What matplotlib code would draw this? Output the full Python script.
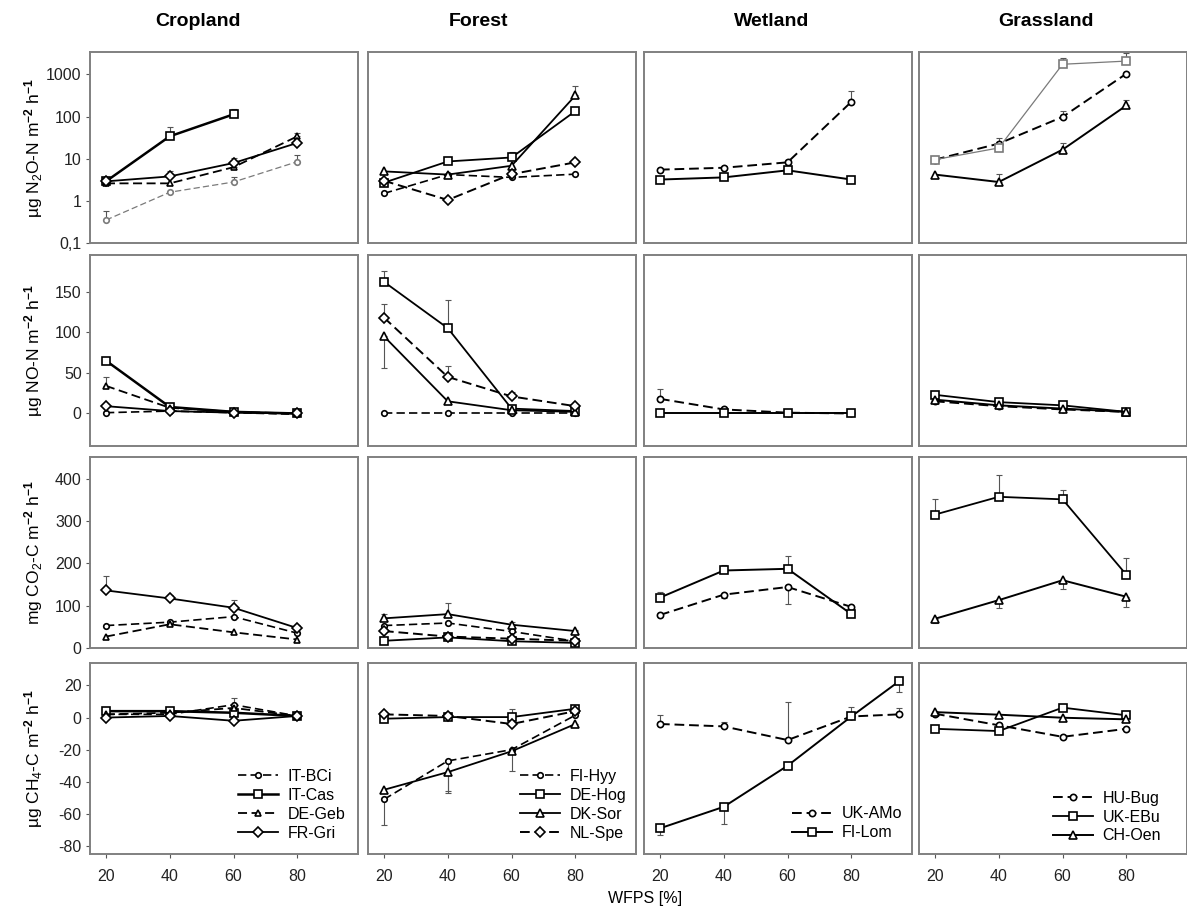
import numpy as np
import matplotlib
matplotlib.use('Agg')
import matplotlib.pyplot as plt

plt.rcParams['font.family'] = ['Liberation Sans', 'DejaVu Sans']
plt.rcParams['mathtext.fontset'] = 'custom'
plt.rcParams['mathtext.rm'] = 'Liberation Sans'
plt.rcParams['mathtext.it'] = 'Liberation Sans:italic'
plt.rcParams['mathtext.bf'] = 'Liberation Sans:bold'

# x values (WFPS %), wetland has one extra point
wfps = [20, 40, 60, 80]
wfps_wet = [20, 40, 60, 80, 95]

land_uses = ["Cropland", "Forest", "Wetland", "Grassland"]
sites_crop = ["IT-BCi", "IT-Cas", "DE-Geb", "FR-Gri"]
sites_forest = ["FI-Hyy", "DE-Hog", "DK-Sor", "NL-Spe"]
sites_wet = ["UK-AMo", "FI-Lom"]
sites_grass = ["HU-Bug", "UK-EBu", "CH-Oen"]

ylabels = [r"µg N$_2$O-N m$^{\mathbf{-2}}$ h$^{\mathbf{-1}}$",
           r"µg NO-N m$^{\mathbf{-2}}$ h$^{\mathbf{-1}}$",
           r"mg CO$_2$-C m$^{\mathbf{-2}}$ h$^{\mathbf{-1}}$",
           r"µg CH$_4$-C m$^{\mathbf{-2}}$ h$^{\mathbf{-1}}$"]

# errors: positive = upper bar, negative = lower bar, 0 = none
# --- N2O ---
n2o_crop = {"IT-BCi": [0.35, 1.6, 2.8, 8.5], "IT-Cas": [2.9, 34, 113, np.nan],
            "DE-Geb": [2.6, 2.6, 6.3, 34], "FR-Gri": [2.9, 3.8, 7.9, 23.7]}
n2o_crop_err = {"IT-BCi": [0.22, 0, 0.8, 3.9], "IT-Cas": [0, 23, 42, 0],
                "DE-Geb": [0, 0, 1.5, 6], "FR-Gri": [0.6, 1.2, 2.6, 3]}
n2o_forest = {"FI-Hyy": [1.5, 4.2, 3.6, 4.3], "DE-Hog": [2.7, 8.6, 10.7, 135],
              "DK-Sor": [5.0, 4.2, 6.8, 316], "NL-Spe": [3.0, 1.05, 4.3, 8.2]}
n2o_forest_err = {"DE-Hog": [0, 1.5, 4, 0], "DK-Sor": [0, 0, 0, 210]}
n2o_wet = {"UK-AMo": [5.5, 6.1, 8.2, 224], "FI-Lom": [3.2, 3.6, 5.3, 3.2]}
n2o_wet_err = {"UK-AMo": [0, 0, 1, 180]}
n2o_grass = {"HU-Bug": [9.5, 22.8, 98, 1040], "UK-EBu": [9.5, 18, 1740, 2070],
             "CH-Oen": [4.2, 2.8, 16.4, 183]}
n2o_grass_err = {"HU-Bug": [0, 8, 36, 0], "UK-EBu": [2, 0, 760, 1100],
                 "CH-Oen": [0, 1.6, 7.6, 62]}

# --- NO ---
no_crop = {"IT-BCi": [1, 3, 1, -1], "IT-Cas": [65, 8, 2, 0],
           "DE-Geb": [34, 7, 2, 0], "FR-Gri": [9, 3, 1, 0]}
no_crop_err = {"IT-Cas": [3, 0, 0, 0], "DE-Geb": [11, 0, 0, 0]}
no_forest = {"FI-Hyy": [0, 0, 0, 0], "DE-Hog": [162, 105, 6, 3],
             "DK-Sor": [95, 15, 4, 2], "NL-Spe": [118, 45, 21, 9]}
no_forest_err = {"DE-Hog": [13, 35, 0, 0], "DK-Sor": [-39, 0, 0, 0],
                 "NL-Spe": [17, 14, 6, 0]}
no_wet = {"UK-AMo": [18, 5, 1, 0], "FI-Lom": [0, 0, 0, 0]}
no_wet_err = {"UK-AMo": [12, 0, 0, 0]}
no_grass = {"HU-Bug": [15, 9, 5, 2], "UK-EBu": [23, 14, 10, 2],
            "CH-Oen": [17, 10, 6, 2]}
no_grass_err = {}

# --- CO2 ---
co2_crop = {"IT-BCi": [53, 61, 74, 35], "DE-Geb": [27, 56, 37, 20],
            "FR-Gri": [136, 117, 95, 47]}
co2_crop_err = {"FR-Gri": [35, 8, 18, 8]}
co2_forest = {"FI-Hyy": [53, 59, 39, 16], "DE-Hog": [17, 25, 16, 12],
              "DK-Sor": [70, 80, 55, 40], "NL-Spe": [40, 27, 22, 17]}
co2_forest_err = {"DK-Sor": [10, 27, 6, 3]}
co2_wet = {"UK-AMo": [78, 126, 144, 97], "FI-Lom": [119, 183, 187, 80]}
co2_wet_err = {"UK-AMo": [0, -9, -39, 0], "FI-Lom": [14, 14, 30, 0]}
co2_grass = {"UK-EBu": [315, 357, 351, 173], "CH-Oen": [69, 113, 160, 121]}
co2_grass_err = {"UK-EBu": [37, 51, 22, 39], "CH-Oen": [-9, -19, -20, -24]}

# --- CH4 ---
ch4_crop = {"IT-BCi": [2, 2, 8, 1], "IT-Cas": [4, 4, 3, 1],
            "DE-Geb": [2, 3, 6, 1], "FR-Gri": [0, 1, -2, 1]}
ch4_crop_err = {"DE-Geb": [0, 0, 6, 0]}
ch4_forest = {"FI-Hyy": [-51, -27, -20, 1.5], "DE-Hog": [-0.7, 0.3, 0.3, 5.5],
              "DK-Sor": [-45, -34, -21, -4], "NL-Spe": [2, 1, -4, 4]}
ch4_forest_err = {"FI-Hyy": [-16, -19, -13, 0], "DE-Hog": [0, 0, 5, 0],
                  "DK-Sor": [0, -13, 0, -2]}
ch4_wet = {"UK-AMo": [-4, -5.5, -14, 0.7, 2], "FI-Lom": [-69, -55.6, -30, 0.7, 22.7]}
ch4_wet_err = {"UK-AMo": [5.6, 3, 24, 6, 4], "FI-Lom": [-4, -10.6, 0, 0, -7]}
ch4_grass = {"HU-Bug": [2.4, -4.8, -12, -7], "UK-EBu": [-7, -8.4, 6.2, 1.4],
             "CH-Oen": [3.4, 1.8, -0.1, -1.1]}
ch4_grass_err = {}

# marker / line style per site
style = {
    "IT-BCi": ('o', '--', 4.0, 1.2), "IT-Cas": ('s', '-', 5.5, 1.8),
    "DE-Geb": ('^', '--', 5.0, 1.3), "FR-Gri": ('D', '-', 5.0, 1.3),
    "FI-Hyy": ('o', '--', 4.0, 1.2), "DE-Hog": ('s', '-', 5.5, 1.3),
    "DK-Sor": ('^', '-', 5.5, 1.3), "NL-Spe": ('D', '--', 5.0, 1.4),
    "UK-AMo": ('o', '--', 4.5, 1.4), "FI-Lom": ('s', '-', 5.5, 1.4),
    "HU-Bug": ('o', '--', 4.5, 1.4), "UK-EBu": ('s', '-', 5.5, 1.3),
    "CH-Oen": ('^', '-', 5.5, 1.4),
}
grey_n2o = ["IT-BCi", "UK-EBu"]

rows = [
    [(n2o_crop, n2o_crop_err), (n2o_forest, n2o_forest_err), (n2o_wet, n2o_wet_err), (n2o_grass, n2o_grass_err)],
    [(no_crop, no_crop_err), (no_forest, no_forest_err), (no_wet, no_wet_err), (no_grass, no_grass_err)],
    [(co2_crop, co2_crop_err), (co2_forest, co2_forest_err), (co2_wet, co2_wet_err), (co2_grass, co2_grass_err)],
    [(ch4_crop, ch4_crop_err), (ch4_forest, ch4_forest_err), (ch4_wet, ch4_wet_err), (ch4_grass, ch4_grass_err)],
]
col_sites = [sites_crop, sites_forest, sites_wet, sites_grass]
col_x = [wfps, wfps, wfps_wet, wfps]

ylims = [(0.1, 3400), (-40, 195), (0, 451), (-85, 34)]
yticks = [[0.1, 1, 10, 100, 1000], [0, 50, 100, 150], [0, 100, 200, 300, 400],
          [-80, -60, -40, -20, 0, 20]]

W, H = 1187, 908
fig = plt.figure(figsize=(W / 100, H / 100), dpi=100)

lefts = [90, 368, 644, 919]
tops = [52, 255, 457, 663]
pw, ph = 268, 191

legend_pos = [(0.552, 0.068), (0.567, 0.068), (0.552, 0.072), (0.50, 0.055)]


def draw(ax, vals, errs, sites, xs, grey):
    for s in sites:
        if s not in vals:
            continue
        v = np.array(vals[s], float)
        x = np.array(xs[:len(v)], float)
        e = np.array(errs.get(s, [0] * len(v)), float)
        mk, ls, ms, lw = style[s]
        col = 'black'
        if grey and s in grey_n2o:
            col, lw = '#7a7a7a', 0.9
        sel = e != 0
        if sel.any():
            lo = np.where(e < 0, -e, 0)[sel]
            hi = np.where(e > 0, e, 0)[sel]
            ax.errorbar(x[sel], v[sel], yerr=[lo, hi], fmt='none', ecolor='#555555',
                        elinewidth=0.8, capsize=2, capthick=0.8, zorder=2)
        dash = (0, (5, 2.5)) if ls == '--' else '-'
        ax.plot(x, v, linestyle=dash, color=col, lw=lw, marker=mk, ms=ms,
                mfc='white', mec=col, mew=1.2, label=s, zorder=3)


for r in range(4):
    for c in range(4):
        ax = fig.add_axes([lefts[c] / W, 1 - (tops[r] + ph) / H, pw / W, ph / H])
        vals, errs = rows[r][c]
        if r == 0:
            ax.set_yscale('log')
        draw(ax, vals, errs, col_sites[c], col_x[c], r == 0)
        ax.set_xlim(15, 99)
        ax.set_ylim(*ylims[r])
        ax.minorticks_off()
        for sp in ax.spines.values():
            sp.set_color('#808080')
            sp.set_linewidth(1.4)
        ax.tick_params(length=3, width=0.8, color='#555555', labelsize=11.5,
                       labelcolor='#222222', pad=3)
        if c == 0:
            ax.set_yticks(yticks[r])
            if r == 0:
                ax.set_yticklabels(["0,1", "1", "10", "100", "1000"])
            else:
                ax.set_yticklabels([str(t) for t in yticks[r]])
        else:
            ax.tick_params(left=False, labelleft=False)
        if r == 3:
            ax.set_xticks(wfps)
            ax.set_xticklabels([str(t) for t in wfps])
            ax.tick_params(axis='x', pad=8)
            ax.legend(loc='lower left', bbox_to_anchor=legend_pos[c], frameon=False,
                      fontsize=11.5, borderpad=0, borderaxespad=0, handlelength=2.5,
                      handletextpad=0.6, labelspacing=0.25)
        else:
            ax.tick_params(bottom=False, labelbottom=False)

title_x = [198, 478, 772, 1046]
for c in range(4):
    fig.text(title_x[c] / W, 1 - 22 / H, land_uses[c], ha='center', va='center',
             fontsize=14, fontweight='bold')

for r in range(4):
    fig.text(34 / W, 1 - (tops[r] + ph / 2) / H, ylabels[r], rotation=90,
             ha='center', va='center', fontsize=12.5)

fig.text(645 / W, 1 - 898 / H, "WFPS [%]", ha='center', va='center', fontsize=11.5)

fig.savefig("out.png", dpi=100)
